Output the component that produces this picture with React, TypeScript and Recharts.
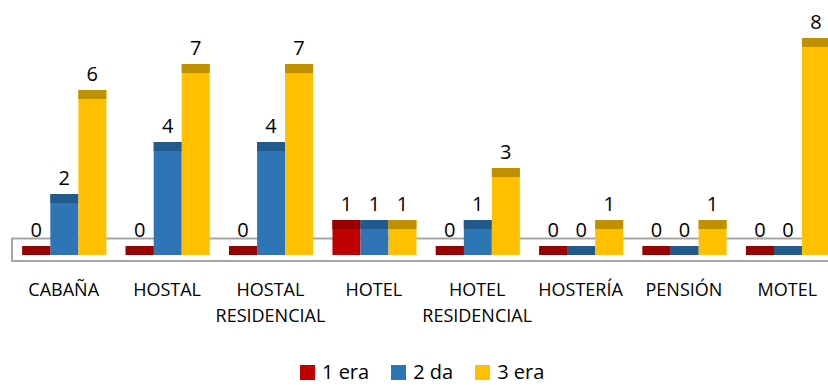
import { BarChart, Bar, XAxis, YAxis, Legend, LabelList, ReferenceArea } from "recharts";

const categories = [
  "CABAÑA",
  "HOSTAL",
  "HOSTAL RESIDENCIAL",
  "HOTEL",
  "HOTEL RESIDENCIAL",
  "HOSTERÍA",
  "PENSIÓN",
  "MOTEL",
];
const primera = [0, 0, 0, 1, 0, 0, 0, 0];
const segunda = [2, 4, 4, 1, 1, 0, 0, 0];
const tercera = [6, 7, 7, 1, 3, 1, 1, 8];

const FONT = "'Open Sans', sans-serif";
const CAP = 9;
// bars start a bit below zero so the 0 values still show their top face
const BASE = -0.346;

const data = categories.map((name, i) => ({
  name,
  primera: primera[i],
  segunda: segunda[i],
  tercera: tercera[i],
}));

const block = (fill: string, cap: string) => (props: any) => {
  const { x, y, width, height } = props;
  return (
    <g>
      <rect x={x} y={y} width={width} height={height} fill={fill} />
      <rect x={x} y={y} width={width} height={Math.min(CAP, height)} fill={cap} />
    </g>
  );
};

function CategoryTick({ x, y, payload }: any) {
  const lines = String(payload.value).split(" ");
  return (
    <g>
      {lines.map((l, i) => (
        <text
          key={i}
          x={x}
          y={y + 41 + i * 26}
          textAnchor="middle"
          fontSize={18}
          fontFamily={FONT}
          fill="#000"
        >
          {l}
        </text>
      ))}
    </g>
  );
}

function LegendBox({ payload }: any) {
  return (
    <div style={{ display: "flex", alignItems: "center", fontFamily: FONT, fontSize: 20, lineHeight: "24px", color: "#000" }}>
      {(payload || []).map((p: any) => (
        <div key={p.value} style={{ display: "flex", alignItems: "center", marginRight: 22 }}>
          <span style={{ width: 15, height: 15, background: p.color, marginRight: 7, display: "inline-block" }} />
          <span>{p.value}</span>
        </div>
      ))}
    </div>
  );
}

const series = [
  { key: "primera", name: "1 era", fill: "#C00000", cap: "#990000" },
  { key: "segunda", name: "2 da", fill: "#2E75B6", cap: "#235A8C" },
  { key: "tercera", name: "3 era", fill: "#FFC000", cap: "#BF9000" },
];

export default function App() {
  return (
    <div style={{ position: "absolute", left: 0, top: 0, width: 828, height: 385, overflow: "hidden", background: "#fff" }}>
      <BarChart
        width={850}
        height={385}
        data={data}
        margin={{ top: 12, right: 11, bottom: 39, left: 12 }}
        barCategoryGap="10%"
        barGap={0}
        style={{ fontFamily: FONT }}
      >
        <YAxis hide domain={[BASE, 9]} allowDataOverflow />
        <XAxis
          dataKey="name"
          interval={0}
          height={91}
          axisLine={false}
          tickLine={false}
          tickSize={0}
          tickMargin={0}
          tick={<CategoryTick />}
        />
        <ReferenceArea y1={-0.58} y2={0.29} ifOverflow="visible" fill="none" stroke="#A6A6A6" strokeWidth={2} />
        {series.map((s) => (
          <Bar
            key={s.key}
            dataKey={(d: any) => [BASE, d[s.key]]}
            name={s.name}
            fill={s.fill}
            shape={block(s.fill, s.cap)}
            isAnimationActive={false}
          >
            <LabelList dataKey={s.key} position="top" offset={9} fontSize={20} fontFamily={FONT} fill="#000" />
          </Bar>
        ))}
        <Legend content={<LegendBox />} wrapperStyle={{ left: 300, top: 360, width: "auto", height: 0 }} />
      </BarChart>
    </div>
  );
}
